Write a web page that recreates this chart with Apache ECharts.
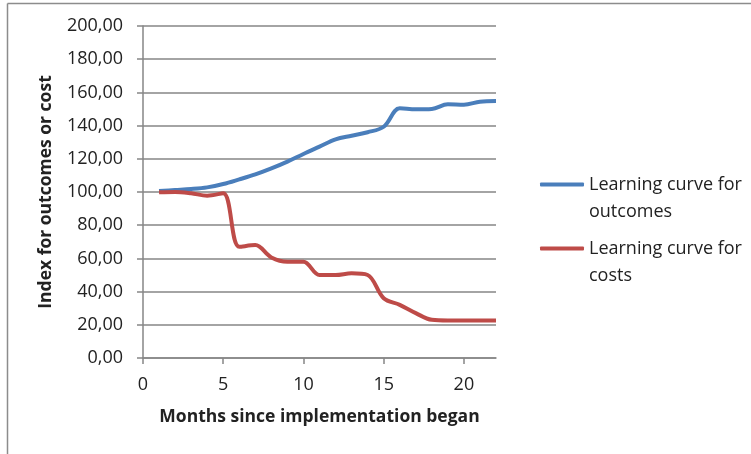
<!DOCTYPE html>
<html>
<head>
<meta charset="utf-8">
<script src="https://cdn.jsdelivr.net/npm/echarts@6/dist/echarts.min.js"></script>
<style>
  html, body { margin: 0; padding: 0; background: #fff; }
  #chart { width: 751px; height: 454px; }
</style>
</head>
<body>
<div id="chart"></div>
<script>
// months 1..22
const months = [1, 2, 3, 4, 5, 6, 7, 8, 9, 10, 11, 12, 13, 14, 15, 16, 17, 18, 19, 20, 21, 22]
const outcomes = [100.6, 101.2, 101.8, 102.8, 104.8, 107.6, 110.6, 114.2, 118.3, 122.9, 127.3, 131.7,
  133.9, 136.0, 139.3, 150.4, 149.8, 150.0, 152.8, 152.6, 154.4, 154.8]
const costs = [99.8, 100.0, 99.2, 97.8, 99.2, 67.0, 68.0, 60.6, 58.0, 58.0, 50.0, 50.0,
  51.0, 50.0, 36.0, 32.0, 27.0, 23.0, 22.6, 22.6, 22.6, 22.6]
const xTicks = [0, 5, 10, 15, 20]
const seriesNames = ['Learning curve for outcomes', 'Learning curve for costs']

const FONT = 'Open Sans'
const GRAY = '#868686'
const TEXT = '#222'

const chart = echarts.init(document.getElementById('chart'))

// one legend per series so the icon sits on the first text line
const legendFor = (name, top) => ({
  orient: 'vertical',
  left: 535,
  top: top,
  itemWidth: 44,
  itemHeight: 4,
  icon: 'roundRect',
  // leading blank line keeps the icon level with the first line
  formatter: n => '\n' + n.replace(' for ', ' for\n'),
  textStyle: { fontSize: 18, color: TEXT, lineHeight: 27 },
  data: [name]
})

const option = {
  backgroundColor: '#fff',
  animation: false,
  textStyle: { fontFamily: FONT },
  graphic: [
    // chart area border (only top/left visible in the picture)
    { type: 'line', shape: { x1: 7.5, y1: 3.5, x2: 751, y2: 3.5 }, style: { stroke: '#8c8c8c', lineWidth: 1.5 } },
    { type: 'line', shape: { x1: 7.5, y1: 3.5, x2: 7.5, y2: 454 }, style: { stroke: '#8c8c8c', lineWidth: 1.5 } }
  ],
  grid: { left: 143, right: 255, top: 26, bottom: 96 },
  legend: [legendFor(seriesNames[0], 139), legendFor(seriesNames[1], 203)],
  xAxis: {
    type: 'value',
    min: 0,
    max: 22,
    interval: 5,
    name: 'Months since implementation began',
    nameLocation: 'middle',
    nameGap: 50,
    nameTextStyle: { fontSize: 17.5, fontWeight: 'bold', color: TEXT },
    axisLine: { lineStyle: { color: GRAY, width: 1.5 } },
    axisTick: { show: true, length: 6, customValues: xTicks, lineStyle: { color: GRAY, width: 1.5 } },
    axisLabel: { customValues: xTicks, fontSize: 18, color: TEXT, margin: 18 },
    splitLine: { show: false }
  },
  yAxis: {
    type: 'value',
    min: 0,
    max: 200,
    interval: 20,
    name: 'Index for outcomes or cost',
    nameLocation: 'middle',
    nameGap: 88,
    nameTextStyle: { fontSize: 17.5, fontWeight: 'bold', color: TEXT },
    axisLine: { show: true, lineStyle: { color: GRAY, width: 1.5 } },
    axisTick: { show: true, length: 6, lineStyle: { color: GRAY, width: 1.5 } },
    axisLabel: {
      fontSize: 18,
      color: TEXT,
      margin: 20,
      formatter: v => v.toFixed(2).replace('.', ',')
    },
    splitLine: { lineStyle: { color: GRAY, width: 1.5 } }
  },
  series: [
    {
      name: seriesNames[0],
      type: 'line',
      data: months.map((m, i) => [m, outcomes[i]]),
      smooth: 0.35,
      showSymbol: false,
      lineStyle: { color: '#4a7ebb', width: 4 },
      itemStyle: { color: '#4a7ebb' }
    },
    {
      name: seriesNames[1],
      type: 'line',
      data: months.map((m, i) => [m, costs[i]]),
      smooth: 0.35,
      showSymbol: false,
      lineStyle: { color: '#be4b48', width: 4 },
      itemStyle: { color: '#be4b48' }
    }
  ]
}

chart.setOption(option)
</script>
</body>
</html>
